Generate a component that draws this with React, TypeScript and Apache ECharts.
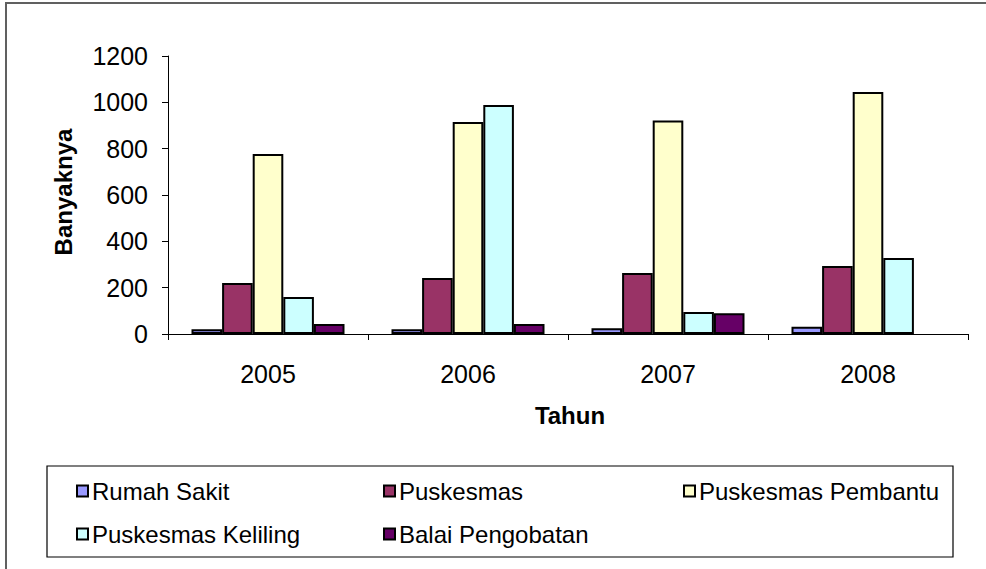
import React, { useEffect, useRef } from "react";
import * as echarts from "echarts";

const categories = ["2005", "2006", "2007", "2008"];
const seriesNames = [
  "Rumah Sakit",
  "Puskesmas",
  "Puskesmas Pembantu",
  "Puskesmas Keliling",
  "Balai Pengobatan",
];
const rumahSakit = [20, 20, 25, 31];
const puskesmas = [220, 242, 263, 293];
const puskesmasPembantu = [777, 915, 922, 1045];
const puskesmasKeliling = [160, 988, 95, 328];
const balaiPengobatan = [43, 43, 90, null];
const seriesValues = [rumahSakit, puskesmas, puskesmasPembantu, puskesmasKeliling, balaiPengobatan];
const colors = ["#9999FF", "#993366", "#FFFFCC", "#CCFFFF", "#660066"];
const yTicks = { min: 0, max: 1200, interval: 200 };

const FONT = "'Liberation Sans', Arial, sans-serif";

const legendPos = [
  { left: 76, top: 479 },
  { left: 383, top: 479 },
  { left: 683, top: 479 },
  { left: 76, top: 522 },
  { left: 383, top: 522 },
];

export default function App() {
  const ref = useRef<HTMLDivElement>(null);
  useEffect(() => {
    if (!ref.current) return;
    const chart = echarts.init(ref.current, null, { renderer: "svg" });
    chart.setOption({
      animation: false,
      backgroundColor: "#fff",
      textStyle: { fontFamily: FONT },
      grid: { left: 168, right: 18, top: 56, bottom: 235, containLabel: false },
      xAxis: {
        type: "category",
        data: categories,
        axisLine: { lineStyle: { color: "#000", width: 1 } },
        axisTick: { show: true, length: 6, lineStyle: { color: "#000" } },
        axisLabel: { color: "#000", fontSize: 25, margin: 27, fontFamily: FONT },
      },
      yAxis: {
        type: "value",
        min: yTicks.min,
        max: yTicks.max,
        interval: yTicks.interval,
        axisLine: { show: true, lineStyle: { color: "#000", width: 1 } },
        axisTick: { show: true, length: 6, lineStyle: { color: "#000" } },
        splitLine: { show: false },
        axisLabel: {
          color: "#000",
          fontSize: 25,
          margin: 20,
          fontFamily: FONT,
          formatter: (v: number) => String(v),
        },
      },
      legend: seriesNames.map((n, i) => ({
        data: [n],
        left: legendPos[i].left,
        top: legendPos[i].top,
        padding: 0,
        icon: "rect",
        itemWidth: 11,
        itemHeight: 11,
        itemStyle: { borderColor: "#000", borderWidth: 2 },
        textStyle: { color: "#000", fontSize: 24, fontFamily: FONT, padding: [0, 0, 0, -1] },
      })),
      series: seriesNames.map((n, i) => ({
        name: n,
        type: "bar",
        data: seriesValues[i],
        barGap: "0%",
        barCategoryGap: "23.5%",
        itemStyle: { color: colors[i], borderColor: "#000", borderWidth: 2 },
      })),
      graphic: [
        {
          type: "rect",
          shape: { x: 6, y: 3, width: 1000, height: 600 },
          style: { fill: "none", stroke: "#606060", lineWidth: 2 },
          silent: true,
        },
        {
          type: "rect",
          shape: { x: 47, y: 466, width: 906, height: 91 },
          style: { fill: "none", stroke: "#000", lineWidth: 1.2 },
          silent: true,
        },
        {
          type: "text",
          x: 63,
          y: 192,
          rotation: Math.PI / 2,
          style: {
            text: "Banyaknya",
            fontSize: 24,
            fontWeight: "bold",
            fontFamily: FONT,
            fill: "#000",
            align: "center",
            verticalAlign: "middle",
          },
        },
        {
          type: "text",
          x: 570,
          y: 415,
          style: {
            text: "Tahun",
            fontSize: 24,
            fontWeight: "bold",
            fontFamily: FONT,
            fill: "#000",
            align: "center",
            verticalAlign: "middle",
          },
        },
      ],
    });
    return () => chart.dispose();
  }, []);
  return (
    <div
      ref={ref}
      style={{ position: "absolute", left: 0, top: 0, width: 986, height: 569 }}
    />
  );
}
